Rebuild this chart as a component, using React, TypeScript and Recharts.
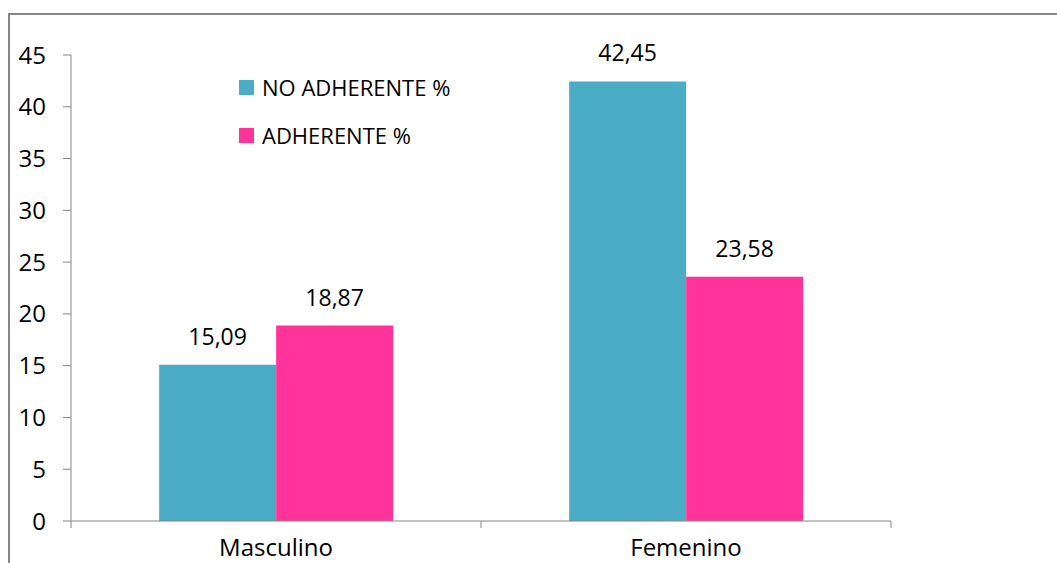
import React from "react";
import { BarChart, Bar, XAxis, YAxis, LabelList } from "recharts";

const categories = ["Masculino", "Femenino"];
const noAdherente = [15.09, 42.45];
const adherente = [18.87, 23.58];
const yTicks = [0, 5, 10, 15, 20, 25, 30, 35, 40, 45];

const seriesNames = ["NO ADHERENTE %", "ADHERENTE %"];
const colors = ["#4BACC6", "#FF3399"];

const data = categories.map((name, i) => ({
  name,
  noAdherente: noAdherente[i],
  adherente: adherente[i],
}));

const W = 1048;
const H = 550;
const M = { top: 40, right: 167, left: 0, bottom: 0 };
const Y_W = 61;
const BAND = (W - M.left - M.right - Y_W) / categories.length;
const AXIS = "#868686";
const FONT = "'Open Sans', sans-serif";

const fmt = (v: any) => Number(v).toFixed(2).replace(".", ",");

// category label plus the boundary marks between categories
const CategoryTick = (props: any) => {
  const { x, y, payload, index } = props;
  return (
    <g>
      {index === 0 && (
        <line x1={x - BAND / 2} x2={x - BAND / 2} y1={y} y2={y + 7} stroke={AXIS} />
      )}
      <line x1={x + BAND / 2} x2={x + BAND / 2} y1={y} y2={y + 7} stroke={AXIS} />
      <text x={x} y={y + 35} textAnchor="middle" fontSize={24} fill="#000" fontFamily={FONT}>
        {payload.value}
      </text>
    </g>
  );
};

// legend sits inside the plot, so keep it out of the chart's layout
const LegendBox = () => (
  <div
    style={{
      position: "absolute",
      left: 229,
      top: 48,
      fontFamily: FONT,
      fontSize: 22,
      color: "#000",
    }}
  >
    {seriesNames.map((n, i) => (
      <div key={n} style={{ display: "flex", alignItems: "center", height: 48 }}>
        <span style={{ width: 15, height: 15, background: colors[i], marginRight: 8 }} />
        <span>{n}</span>
      </div>
    ))}
  </div>
);

export default function App() {
  return (
    <div
      style={{
        position: "fixed",
        top: 13,
        left: 8,
        width: W + 1,
        height: H,
        borderTop: `2px solid ${AXIS}`,
        borderLeft: `2px solid ${AXIS}`,
        boxSizing: "border-box",
        overflow: "hidden",
        background: "#fff",
      }}
    >
      <BarChart
        width={W}
        height={H}
        data={data}
        margin={M}
        barCategoryGap="21.5%"
        barGap={0}
        style={{ fontFamily: FONT }}
      >
        <XAxis
          dataKey="name"
          stroke={AXIS}
          tickLine={false}
          tickSize={0}
          tickMargin={0}
          height={44}
          tick={<CategoryTick />}
          interval={0}
        />
        <YAxis
          width={Y_W}
          domain={[0, 45]}
          ticks={yTicks}
          interval={0}
          stroke={AXIS}
          tickSize={8}
          tickMargin={17}
          tick={{ fill: "#000", fontSize: 24 }}
        />
        <Bar dataKey="noAdherente" name={seriesNames[0]} fill={colors[0]} isAnimationActive={false}>
          <LabelList dataKey="noAdherente" position="top" offset={20} formatter={fmt} fill="#000" fontSize={23} />
        </Bar>
        <Bar dataKey="adherente" name={seriesNames[1]} fill={colors[1]} isAnimationActive={false}>
          <LabelList dataKey="adherente" position="top" offset={20} formatter={fmt} fill="#000" fontSize={23} />
        </Bar>
      </BarChart>
      <LegendBox />
    </div>
  );
}
